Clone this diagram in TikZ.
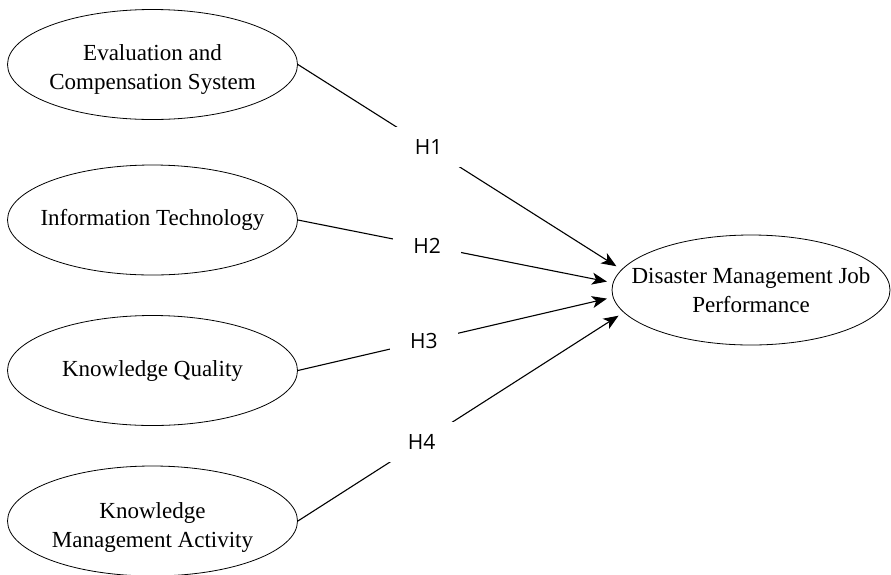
\documentclass[tikz,border=0pt]{standalone}
\usepackage{fontspec}
\setmainfont{Liberation Serif}
\newfontfamily\hfont{Open Sans}
\usetikzlibrary{shapes.geometric,arrows.meta}
\tikzset{
  construct/.style={ellipse, draw, line width=0.8pt, minimum width=290pt, minimum height=110pt, inner sep=0pt},
  ctext/.style={align=center, inner sep=0pt, font=\fontsize{23}{29}\selectfont},
  hyp/.style={fill=white, inner sep=0pt, minimum width=68pt, minimum height=40pt, font=\hfont\fontsize{21}{24}\selectfont},
  conn/.style={line width=1.1pt, -{Stealth[length=15pt,width=12pt,inset=4pt]}, shorten >=6pt}
}
\begin{document}
\begin{tikzpicture}[x=1pt,y=-1pt]
\useasboundingbox (0,0) rectangle (891,574);
% constructs
\node[construct] (e1) at (152.5,64.5) {};
\node[ctext] (t1) at ([yshift=-5pt]e1.center) {Evaluation and\\Compensation System};
\node[construct] (e2) at (152.5,220) {};
\node[ctext] (t2) at (e2) {Information Technology};
\node[construct] (e3) at (152.5,370.5) {};
\node[ctext] (t3) at (e3) {Knowledge Quality};
\node[construct] (e4) at (152.5,521) {};
\node[ctext] (t4) at ([yshift=-6pt]e4.center) {Knowledge\\Management Activity};
\node[construct, minimum width=278pt] (r) at (751,290) {};
\node[ctext] (tr) at (r) {Disaster Management Job\\Performance};
% hypotheses
\draw[conn] (e1.east) -- node[hyp, pos=0.404] (h1) {H1} (r.171.6);
\draw[conn] (e2.east) -- node[hyp, pos=0.41] (h2) {H2} (r.177);
\draw[conn] (e3.east) -- node[hyp, pos=0.40] (h3) {H3} (r.183);
\draw[conn] (e4.east) -- node[hyp, pos=0.38] (h4) {H4} (r.190);
\end{tikzpicture}
\end{document}
